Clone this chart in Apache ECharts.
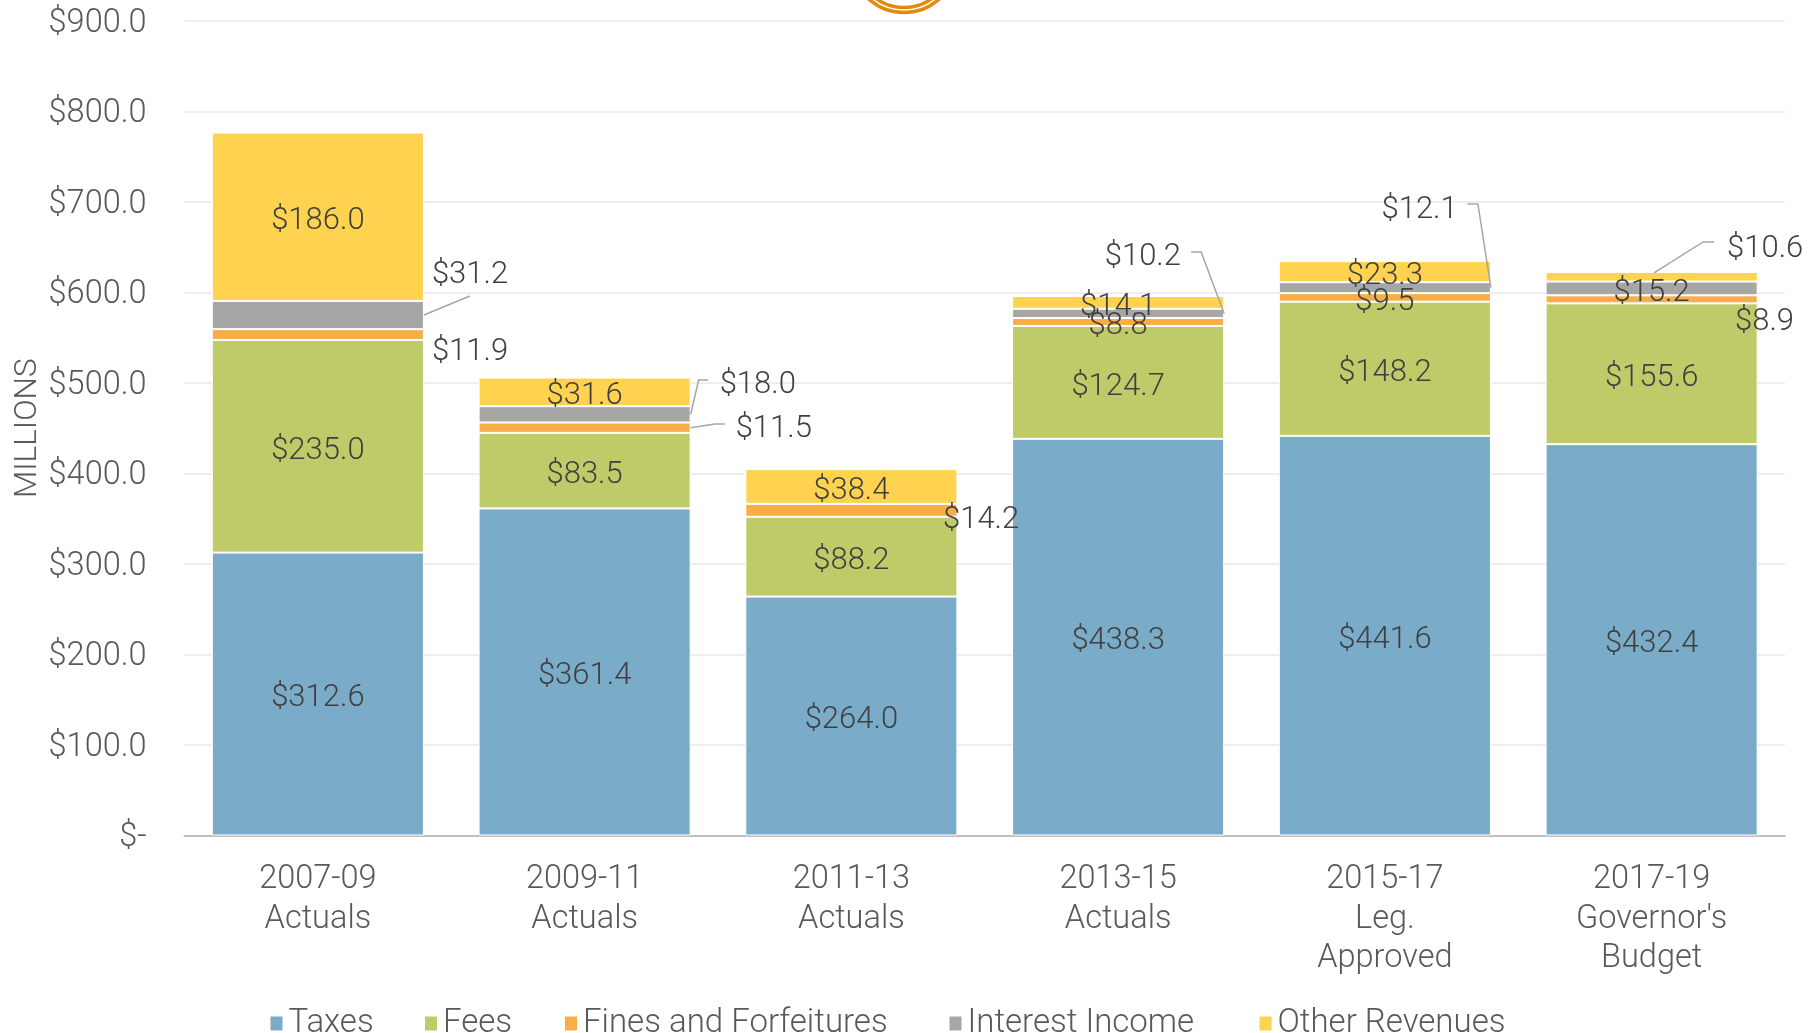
<!DOCTYPE html>
<html>
<head>
<meta charset="utf-8">
<script src="https://cdn.jsdelivr.net/npm/echarts@6/dist/echarts.min.js"></script>
<style>
  html, body { margin: 0; padding: 0; background: #fff; }
  #chart { width: 1820px; height: 1033px; }
</style>
</head>
<body>
<div id="chart"></div>
<script>
// 数据
var categories = ['2007-09\nActuals', '2009-11\nActuals', '2011-13\nActuals', '2013-15\nActuals', '2015-17\nLeg.\nApproved', '2017-19\nGovernor\'s\nBudget'];
var taxes = [312.6, 361.4, 264.0, 438.3, 441.6, 432.4];
var fees = [235.0, 83.5, 88.2, 124.7, 148.2, 155.6];
var fines = [11.9, 11.5, 14.2, 8.8, 9.5, 8.9];
var interest = [31.2, 18.0, null, 10.2, 12.1, 15.2];
var other = [186.0, 31.6, 38.4, 14.1, 23.3, 10.6];

var names = ['Taxes', 'Fees', 'Fines and Forfeitures', 'Interest Income', 'Other Revenues'];
var colors = ['#7AABC8', '#BFCB68', '#F7AE48', '#A6A6A6', '#FFD34F'];
var values = [taxes, fees, fines, interest, other];

var BAR_FRAC = 0.795;
var FONT = 'Roboto, "Noto Sans", sans-serif';
var LABEL_DY = 2.5;

// 图例位置
var legendLeft = [263.5, 418, 558, 942.5, 1252.5];

// 外部标签偏移（相对于色块右侧中点）
var outsideLabels = {
    2: {0: [8, 15.5], 1: [45, -0.7], 2: [-14.4, 7.7], 5: [-22.6, 20.7]},
    3: {0: [8, -42], 1: [29, -31.3], 3: [-119.4, -58.4], 4: [-109.4, -79.7]},
    4: {5: [-30.6, -29.8]}
};
// 引导线
var leaders = [
    {series: 3, cat: 0, path: [[0, 0], [46, -19]]},
    {series: 2, cat: 1, path: [[0, 0], [24, -3.7], [34.4, -3.7]]},
    {series: 3, cat: 1, path: [[0, 0], [8, -34.3], [17.4, -34.3]]},
    {series: 3, cat: 3, path: [[0, 0], [-23, -61.4], [-33, -61.4]]},
    {series: 3, cat: 4, path: [[0, 0], [-13, -83.7], [-23.4, -83.7]]},
    {series: 4, cat: 5, path: [[-103.6, -3.8], [-54.6, -34.8], [-43.6, -34.8]]}
];

function money(v) {
    return '$' + Number(v).toFixed(1);
}

function segMid(s, c) {
    var base = 0;
    for (var i = 0; i < s; i++) base += values[i][c] || 0;
    return base + (values[s][c] || 0) / 2;
}

var series = names.map(function (name, s) {
    return {
        name: name,
        type: 'bar',
        stack: 'total',
        barWidth: (BAR_FRAC * 100) + '%',
        itemStyle: { color: colors[s], borderColor: '#fff', borderWidth: 1 },
        label: {
            show: true,
            position: 'inside',
            offset: [0, 2 + LABEL_DY],
            fontFamily: FONT,
            fontWeight: 300,
            fontSize: 31,
            color: '#404040',
            formatter: function (p) { return p.value == null ? '' : money(p.value); }
        },
        data: values[s].map(function (v, c) {
            var o = outsideLabels[s] && outsideLabels[s][c];
            var item = { value: v };
            if (o) {
                item.label = { position: 'right', distance: 0, align: 'left', offset: [o[0], o[1] + LABEL_DY] };
            }
            return item;
        })
    };
});

series.push({
    type: 'custom',
    silent: true,
    z: 5,
    encode: { x: 0, y: 1 },
    data: leaders.map(function (l) { return [l.cat, segMid(l.series, l.cat)]; }),
    renderItem: function (params, api) {
        var p = api.coord([api.value(0), api.value(1)]);
        var bw = api.size([1, 0])[0] * BAR_FRAC;
        var ox = p[0] + bw / 2, oy = p[1];
        var pts = leaders[params.dataIndex].path.map(function (d) { return [ox + d[0], oy + d[1]]; });
        return {
            type: 'polyline',
            shape: { points: pts },
            style: { stroke: '#A6A6A6', lineWidth: 1.5, fill: null }
        };
    }
});

var legends = names.map(function (n, i) {
    return {
        data: [n],
        left: legendLeft[i],
        top: 1002,
        icon: 'rect',
        itemWidth: 14,
        itemHeight: 16,
        textStyle: { fontFamily: FONT, fontWeight: 300, fontSize: 33, color: '#595959' }
    };
});

var dom = document.getElementById('chart');
var myChart = echarts.init(dom, null, { renderer: 'canvas' });
var option = {
    animation: false,
    backgroundColor: '#fff',
    color: colors,
    graphic: [
        { type: 'circle', shape: { cx: 904, cy: -40, r: 52.5 }, style: { fill: null, stroke: '#E38A0B', lineWidth: 3.5 } },
        { type: 'circle', shape: { cx: 904, cy: -40, r: 47.5 }, style: { fill: null, stroke: '#E38A0B', lineWidth: 3.5 } }
    ],
    grid: { left: 184.5, right: 35, top: 21, bottom: 197.5, outerBoundsMode: 'none', containLabel: false },
    legend: legends,
    xAxis: {
        type: 'category',
        data: categories,
        axisLine: { lineStyle: { color: '#BFBFBF', width: 2 } },
        axisTick: { show: false },
        axisLabel: {
            margin: 25,
            fontFamily: FONT,
            fontWeight: 300,
            fontSize: 32.5,
            lineHeight: 39.5,
            color: '#595959'
        }
    },
    yAxis: {
        type: 'value',
        min: 0,
        max: 900,
        interval: 100,
        name: 'MILLIONS',
        nameLocation: 'middle',
        nameGap: 140,
        nameMoveOverlap: false,
        nameTextStyle: { fontFamily: FONT, fontWeight: 300, fontSize: 31.5, color: '#595959' },
        axisLine: { show: false },
        axisTick: { show: false },
        splitLine: { lineStyle: { color: '#E8E8E8', width: 1.5 } },
        axisLabel: {
            margin: 38,
            fontFamily: FONT,
            fontWeight: 300,
            fontSize: 32.5,
            color: '#595959',
            formatter: function (v) { return '{v|' + (v === 0 ? '$-' : money(v)) + '}'; },
            rich: {
                v: { fontFamily: FONT, fontWeight: 300, fontSize: 32.5, color: '#595959', padding: [5, 0, 0, 0] }
            }
        }
    },
    series: series
};
myChart.setOption(option);
window.addEventListener('resize', myChart.resize);
</script>
</body>
</html>
